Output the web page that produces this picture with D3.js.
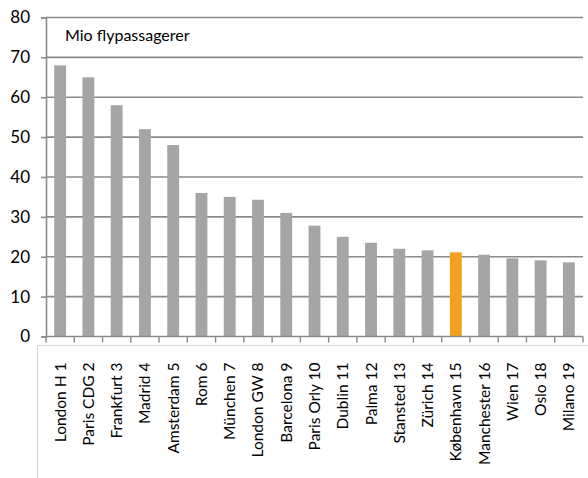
<!DOCTYPE html>
<html><head><meta charset="utf-8">
<script src="https://cdn.jsdelivr.net/npm/d3@7"></script>
<style>body{margin:0;background:#fff}svg{display:block}text{font-family:Lato,"Open Sans",sans-serif;fill:#000}</style>
</head><body>
<svg id="c" width="588" height="478"></svg>
<script>
const categories = ["London H 1","Paris CDG 2","Frankfurt 3","Madrid 4","Amsterdam 5","Rom 6","München 7","London GW 8","Barcelona 9","Paris Orly 10","Dublin 11","Palma 12","Stansted 13","Zürich 14","København 15","Manchester 16","Wien 17","Oslo 18","Milano 19"];
const values = [68,65,58,52,48,36,35,34.3,31,27.8,25,23.5,22,21.6,21.1,20.5,19.6,19.1,18.6];
const highlight = ["København 15"];
const yTicks = [0,10,20,30,40,50,60,70,80];
const title = "Mio flypassagerer";

const svg = d3.select("#c");
const L = 46, R = 583, T = 17.5, B = 336.5;
const x = d3.scaleBand().domain(categories).range([L, R]).paddingInner(0.58).paddingOuter(0.29);
const y = d3.scaleLinear().domain([0,80]).range([B, T]);

// light frame below axis
svg.append("line").attr("x1",37.5).attr("x2",588).attr("y1",345.5).attr("y2",345.5).attr("stroke","#d9d9d9");
svg.append("line").attr("x1",37.5).attr("x2",37.5).attr("y1",345.5).attr("y2",478).attr("stroke","#d9d9d9");

// gridlines
svg.append("g").selectAll("line").data(yTicks.filter(d=>d>0)).join("line")
  .attr("x1",L).attr("x2",R).attr("y1",d=>y(d)).attr("y2",d=>y(d))
  .attr("stroke","#8a8a8a").attr("stroke-width",1.6);

// y axis
const ya = svg.append("g").attr("transform",`translate(${L},0)`).call(d3.axisLeft(y).tickValues(yTicks).tickSize(5).tickPadding(11));
ya.select(".domain").attr("stroke","#8a8a8a").attr("stroke-width",1.6);
ya.selectAll(".tick line").attr("stroke","#8a8a8a").attr("stroke-width",1.6);
ya.selectAll("text").style("font-size","17px").attr("fill","#000");

// bars
svg.append("g").selectAll("rect").data(categories).join("rect")
  .attr("x",d=>x(d)).attr("width",x.bandwidth())
  .attr("y",(d,i)=>y(values[i])).attr("height",(d,i)=>B-y(values[i]))
  .attr("fill",d=>highlight.includes(d)?"#f0a120":"#a5a5a5");

// x axis
const xa = svg.append("g").attr("transform",`translate(0,${B})`);
xa.append("line").attr("x1",L).attr("x2",R).attr("stroke","#8a8a8a").attr("stroke-width",1.6);
const bounds = d3.range(categories.length+1).map(i=>L+i*(R-L)/categories.length);
xa.selectAll("line.t").data(bounds).join("line").attr("class","t")
  .attr("x1",d=>d).attr("x2",d=>d).attr("y1",0).attr("y2",6).attr("stroke","#8a8a8a").attr("stroke-width",1.4);
xa.selectAll("text").data(categories).join("text")
  .attr("transform",d=>`translate(${x(d)+x.bandwidth()/2+5.5},26) rotate(-90)`)
  .attr("text-anchor","end").style("font-size","15.5px").text(d=>d);

// title
svg.append("text").attr("x",65).attr("y",41).style("font-size","16px").text(title);
</script>
</body></html>
